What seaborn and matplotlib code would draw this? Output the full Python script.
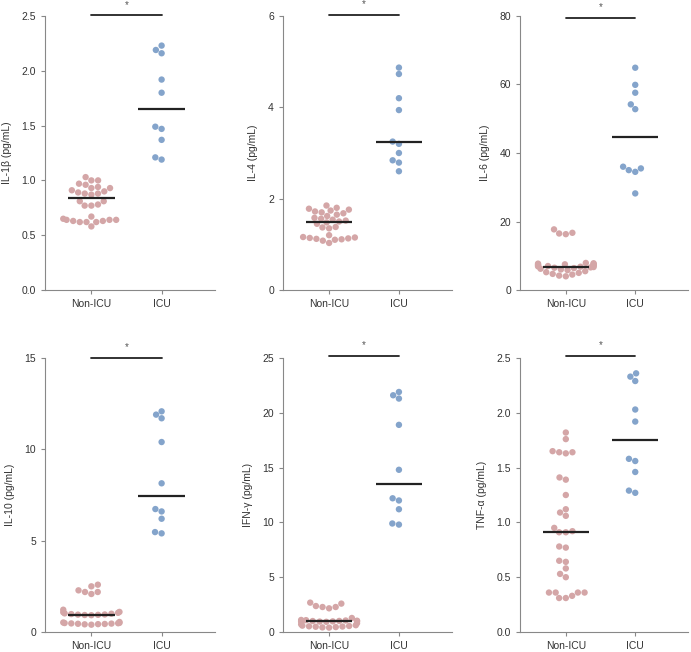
import numpy as np
import pandas as pd
import seaborn as sns
import matplotlib.pyplot as plt

groups = ["Non-ICU", "ICU"]
colors = ["#d4a6a7", "#84a4cb"]

# values (pg/mL)
il1b_non = [1.03, 1.00, 1.00, 0.97, 0.96, 0.94, 0.93, 0.93, 0.91, 0.90, 0.89, 0.88, 0.88,
            0.87, 0.81, 0.81, 0.78, 0.77, 0.77, 0.67, 0.65, 0.64, 0.64, 0.64, 0.63, 0.63,
            0.62, 0.62, 0.62, 0.58]
il1b_icu = [2.23, 2.19, 2.16, 1.92, 1.80, 1.49, 1.47, 1.37, 1.21, 1.19]

il4_non = [1.85, 1.80, 1.78, 1.76, 1.74, 1.72, 1.70, 1.68, 1.65, 1.62, 1.58, 1.56, 1.54,
           1.52, 1.50, 1.48, 1.45, 1.38, 1.37, 1.35, 1.20, 1.16, 1.15, 1.14, 1.13, 1.12,
           1.11, 1.10, 1.08, 1.03]
il4_icu = [4.87, 4.73, 4.20, 3.94, 3.25, 3.20, 3.00, 2.84, 2.79, 2.60]

il6_non = [17.7, 16.7, 16.5, 16.3, 7.9, 7.8, 7.7, 7.6, 7.5, 7.4, 7.3, 7.2, 7.1, 7.0, 6.9,
           6.8, 6.7, 6.6, 6.5, 6.4, 6.2, 6.0, 5.8, 5.5, 5.2, 5.0, 4.7, 4.5, 4.2, 4.0]
il6_icu = [64.9, 59.9, 57.6, 54.2, 52.8, 36.0, 35.5, 35.0, 34.5, 28.2]

il10_non = [2.59, 2.50, 2.28, 2.19, 2.19, 2.08, 1.22, 1.10, 1.08, 1.05, 1.02, 1.00, 0.98,
            0.96, 0.95, 0.94, 0.93, 0.92, 0.55, 0.52, 0.50, 0.49, 0.48, 0.47, 0.46, 0.45,
            0.44, 0.43, 0.42, 0.40]
il10_icu = [12.08, 11.9, 11.7, 10.4, 8.14, 6.73, 6.6, 6.2, 5.47, 5.4]

ifn_non = [2.68, 2.59, 2.37, 2.28, 2.28, 2.16, 1.28, 1.10, 1.08, 1.05, 1.03, 1.01, 1.00,
           0.99, 0.98, 0.97, 0.96, 0.95, 0.93, 0.80, 0.70, 0.62, 0.58, 0.55, 0.52, 0.50,
           0.48, 0.45, 0.42, 0.40]
ifn_icu = [21.9, 21.6, 21.3, 18.9, 14.8, 12.2, 12.0, 11.2, 9.9, 9.8]

tnf_non = [1.82, 1.76, 1.65, 1.64, 1.64, 1.63, 1.41, 1.39, 1.25, 1.12, 1.09, 1.06, 0.95,
           0.92, 0.91, 0.91, 0.78, 0.77, 0.65, 0.64, 0.58, 0.53, 0.50, 0.36, 0.36, 0.36,
           0.36, 0.33, 0.31, 0.31]
tnf_icu = [2.36, 2.33, 2.29, 2.03, 1.92, 1.58, 1.56, 1.46, 1.29, 1.27]

labels = ["IL-1β (pg/mL)", "IL-4 (pg/mL)", "IL-6 (pg/mL)",
          "IL-10 (pg/mL)", "IFN-γ (pg/mL)", "TNF-α (pg/mL)"]
non_icu = [il1b_non, il4_non, il6_non, il10_non, ifn_non, tnf_non]
icu = [il1b_icu, il4_icu, il6_icu, il10_icu, ifn_icu, tnf_icu]
medians = [(0.84, 1.65), (1.50, 3.23), (6.7, 44.6), (0.95, 7.45), (0.97, 13.5), (0.91, 1.75)]
yticks = [[0, 0.5, 1.0, 1.5, 2.0, 2.5], [0, 2, 4, 6], [0, 20, 40, 60, 80],
          [0, 5, 10, 15], [0, 5, 10, 15, 20, 25], [0, 0.5, 1.0, 1.5, 2.0, 2.5]]
ytick_fmt = ["{:.1f}", "{:.0f}", "{:.0f}", "{:.0f}", "{:.0f}", "{:.1f}"]
bar_y = [2.505, 6.02, 79.5, 15.0, 25.2, 2.52]

sns.set_style("ticks")
plt.rcParams['font.family'] = ['Liberation Sans', 'DejaVu Sans']
plt.rcParams['text.color'] = '#333333'
plt.rcParams['axes.labelcolor'] = '#333333'
plt.rcParams['xtick.color'] = '#888888'
plt.rcParams['ytick.color'] = '#888888'
plt.rcParams['xtick.labelcolor'] = '#333333'
plt.rcParams['ytick.labelcolor'] = '#333333'

fig = plt.figure(figsize=(6.91, 6.52), dpi=100)
lefts = [45, 283, 520]
widths = [170, 169, 168]
bottoms = [290, 632]

for k in range(6):
    r, c = divmod(k, 3)
    ax = fig.add_axes([lefts[c] / 691, 1 - bottoms[r] / 652, widths[c] / 691, 274 / 652])
    df = pd.DataFrame({
        "group": ["Non-ICU"] * len(non_icu[k]) + ["ICU"] * len(icu[k]),
        "value": non_icu[k] + icu[k],
    })
    sns.swarmplot(data=df, x="group", y="value", hue="group", order=groups,
                  hue_order=groups, palette=colors, size=4.6, ax=ax, legend=False,
                  linewidth=0, zorder=2)
    # median lines
    for i, m in enumerate(medians[k]):
        ax.hlines(m, i - 0.335, i + 0.335, color="#222222", lw=1.6, zorder=3)
    # significance bar
    ax.plot([0, 1], [bar_y[k], bar_y[k]], color="#222222", lw=1.3, clip_on=False)
    ax.annotate("*", xy=(0.5, bar_y[k]), xytext=(0, 4), textcoords="offset points",
                ha="center", va="bottom", fontsize=7, color="#555555",
                annotation_clip=False)
    ax.set_xlim(-0.66, 1.76)
    ax.set_ylim(0, yticks[k][-1])
    ax.set_yticks(yticks[k])
    ax.set_yticklabels([ytick_fmt[k].format(v) for v in yticks[k]])
    ax.set_xlabel("")
    ax.set_ylabel(labels[k], fontsize=7.5, labelpad=7)
    ax.tick_params(axis="both", labelsize=7.5, length=3, width=0.8)
    for s in ["left", "bottom"]:
        ax.spines[s].set_color("#888888")
        ax.spines[s].set_linewidth(0.8)
    sns.despine(ax=ax)

fig.savefig("out.png", dpi=100)
